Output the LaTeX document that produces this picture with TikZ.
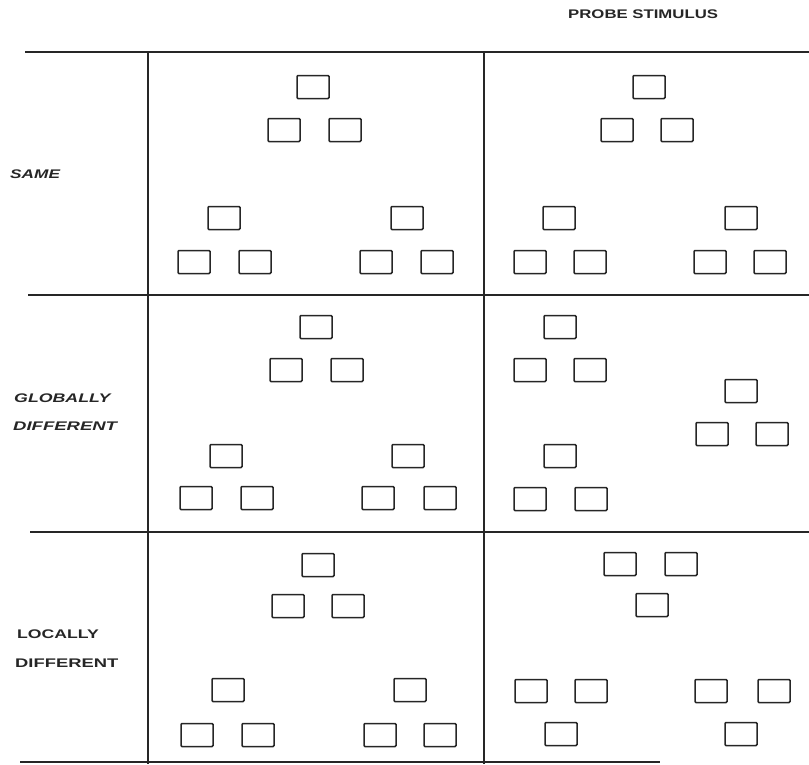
\documentclass[tikz,border=0pt]{standalone}
\usepackage{fontspec}
\usepackage{tikz}
\newfontfamily\labelfont{Liberation Sans}
\tikzset{
    unit/.style={draw=black!85, line width=1.5pt, rounded corners=1pt,
        minimum width=32pt, minimum height=23pt, inner sep=0pt},
    rule/.style={line width=1.4pt, black!85},
    rowlabel/.style={anchor=west, inner sep=0pt, text=black!85,
        font=\labelfont\bfseries\fontsize{12.5}{13}\selectfont}
}
\newcommand{\widetext}[2][1.42]{\scalebox{#1}[1]{#2}}

\begin{document}
\begin{tikzpicture}[x=1pt, y=-1pt]
    \useasboundingbox (0,0) rectangle (809,764);

    % frame of the table
    \coordinate (tl) at (25,52);   \coordinate (tr) at (809,52);
    \coordinate (m1l) at (28,295); \coordinate (m1r) at (809,295);
    \coordinate (m2l) at (30,532); \coordinate (m2r) at (809,532);
    \coordinate (bl) at (20,762);  \coordinate (br) at (660,762);
    \coordinate (v1t) at (148,52); \coordinate (v1b) at (148,764);
    \coordinate (v2t) at (484,52); \coordinate (v2b) at (484,764);
    \draw[rule] (tl) -- (tr);
    \draw[rule] (m1l) -- (m1r);
    \draw[rule] (m2l) -- (m2r);
    \draw[rule] (bl) -- (br);
    \draw[rule] (v1t) -- (v1b);
    \draw[rule] (v2t) -- (v2b);

    % labels
    \node[rowlabel] (probe) at (568,14) {\widetext[1.34]{PROBE STIMULUS}};
    \node[rowlabel] (same) at (10,174) {\widetext[1.38]{\itshape SAME}};
    \node[rowlabel] (glob) at (14,398) {\widetext{\itshape GLOBALLY}};
    \node[rowlabel] (gdiff) at (13,426) {\widetext[1.48]{\itshape DIFFERENT}};
    \node[rowlabel] (loc) at (17,634) {\widetext[1.41]{LOCALLY}};
    \node[rowlabel] (ldiff) at (15,663) {\widetext[1.47]{DIFFERENT}};

    % same: standard / probe
    \foreach \x/\y [count=\i] in {313/87, 284/130, 345/130,
        224/218, 194/262, 255/262, 407/218, 376/262, 437/262}
        \node[unit] (sa\i) at (\x,\y) {};
    \foreach \x/\y [count=\i] in {649/87, 617/130, 677/130,
        559/218, 530/262, 590/262, 741/218, 710/262, 770/262}
        \node[unit] (sb\i) at (\x,\y) {};

    % globally different
    \foreach \x/\y [count=\i] in {316/327, 286/370, 347/370,
        226/456, 196/498, 257/498, 408/456, 378/498, 440/498}
        \node[unit] (ga\i) at (\x,\y) {};
    \foreach \x/\y [count=\i] in {560/327, 530/370, 590/370,
        741/391, 712/434, 772/434, 560/456, 530/499, 591/499}
        \node[unit] (gb\i) at (\x,\y) {};

    % locally different
    \foreach \x/\y [count=\i] in {318/565, 288/606, 348/606,
        228/690, 197/735, 258/735, 410/690, 380/735, 440/735}
        \node[unit] (la\i) at (\x,\y) {};
    \foreach \x/\y [count=\i] in {620/564, 681/564, 652/605,
        531/691, 591/691, 561/734, 711/691, 774/691, 741/734}
        \node[unit] (lb\i) at (\x,\y) {};
\end{tikzpicture}
\end{document}
